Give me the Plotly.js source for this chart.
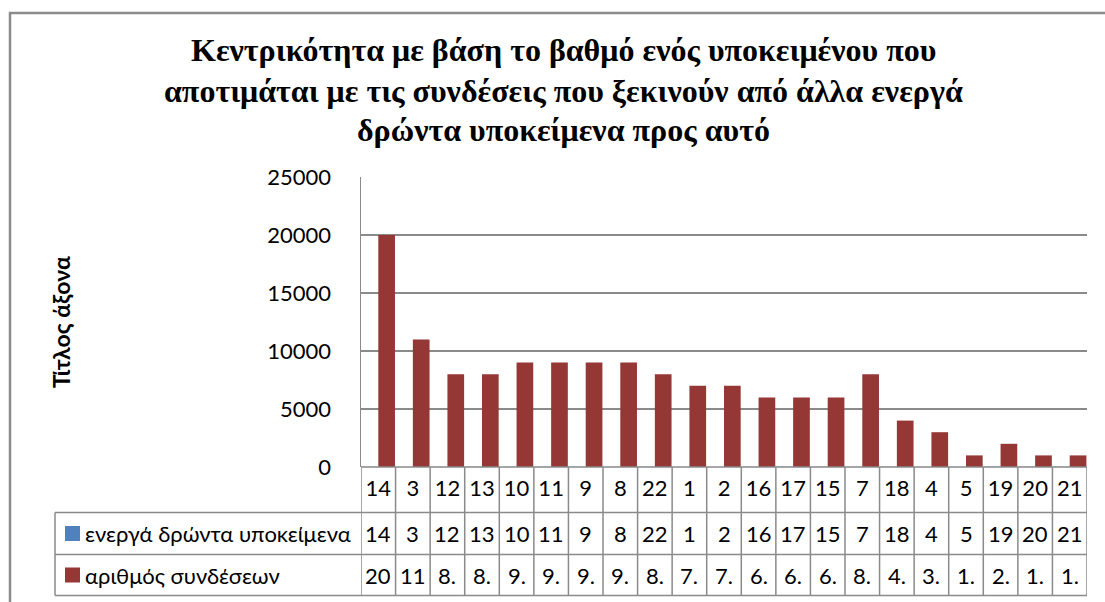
<!DOCTYPE html>
<html>
<head>
<meta charset="utf-8">
<script src="https://cdn.plot.ly/plotly-3.0.1.min.js"></script>
<style>html,body{margin:0;padding:0;background:#fff;}#chart{width:1105px;height:602px;}</style>
</head>
<body>
<div id="chart"></div>
<script>
// ---- data ----
const categories = ['14','3','12','13','10','11','9','8','22','1','2','16','17','15','7','18','4','5','19','20','21'];
const actors = [14,3,12,13,10,11,9,8,22,1,2,16,17,15,7,18,4,5,19,20,21];
const connections = [20000,11000,8000,8000,9000,9000,9000,9000,8000,7000,7000,6000,6000,6000,8000,4000,3000,1000,2000,1000,1000];
const seriesNames = ['ενεργά δρώντα υποκείμενα', 'αριθμός συνδέσεων'];
const seriesColors = ['#4F81BD', '#953735'];
const yTickValues = [0, 5000, 10000, 15000, 20000, 25000];
const yTickLabels = ['0', '5000', '10000', '15000', '20000', '25000'];
const titleLines = [
  'Κεντρικότητα με βάση το βαθμό ενός υποκειμένου που',
  'αποτιμάται με τις συνδέσεις που ξεκινούν από άλλα ενεργά',
  'δρώντα υποκείμενα προς αυτό'
];
const yTitle = 'Τίτλος άξονα';

// ---- helpers ----
const W = 1105, H = 602;
const px = x => x / W;
const py = y => 1 - y / H;
const idx = categories.map((c, i) => i);
// Excel-style truncated cell text (Greek thousands separator, narrow column)
const cellText = v => {
  const s = (v >= 1000) ? (Math.floor(v / 1000) + '.' + String(v % 1000).padStart(3, '0')) : String(v);
  return s.slice(0, 2);
};

const gridColor = '#8a8a8a';
const sansFont = 'Lato';
const serifFont = 'Liberation Serif';

// plot geometry (page px)
const plotL = 361, plotR = 1087, plotT = 177, plotB = 467;
const rowLines = [467, 512.5, 554.5, 595.5];
const legendL = 55;

const traces = [
  {type: 'bar', x: idx, y: actors, name: seriesNames[0], marker: {color: seriesColors[0]}, showlegend: false, hoverinfo: 'none'},
  {type: 'bar', x: idx, y: connections, name: seriesNames[1], marker: {color: seriesColors[1]}, showlegend: false, hoverinfo: 'none'}
];

const shapes = [];
// outer chart border
shapes.push({type: 'rect', xref: 'paper', yref: 'paper', x0: px(10), x1: px(1130), y0: py(13), y1: py(630),
  line: {color: '#8c8c8c', width: 2.5}, fillcolor: 'rgba(0,0,0,0)', layer: 'below'});
// vertical category lines through table
for (let i = 0; i <= categories.length; i++) {
  shapes.push({type: 'line', xref: 'x', yref: 'paper', x0: i - 0.5, x1: i - 0.5,
    y0: py(plotB), y1: py(rowLines[3]), line: {color: gridColor, width: 1.5}});
}
// horizontal lines
shapes.push({type: 'line', xref: 'paper', yref: 'paper', x0: px(plotL), x1: px(plotR), y0: py(rowLines[0]), y1: py(rowLines[0]), line: {color: gridColor, width: 1.5}});
for (let r = 1; r < rowLines.length; r++) {
  shapes.push({type: 'line', xref: 'paper', yref: 'paper', x0: px(legendL), x1: px(plotR), y0: py(rowLines[r]), y1: py(rowLines[r]), line: {color: gridColor, width: 1.5}});
}
// legend column left edge
shapes.push({type: 'line', xref: 'paper', yref: 'paper', x0: px(legendL), x1: px(legendL), y0: py(rowLines[1]), y1: py(rowLines[3]), line: {color: gridColor, width: 1.5}});
// legend keys
const rowCenters = [(rowLines[1] + rowLines[2]) / 2, (rowLines[2] + rowLines[3]) / 2];
seriesColors.forEach((c, k) => {
  shapes.push({type: 'rect', xref: 'paper', yref: 'paper', x0: px(65), x1: px(80), y0: py(rowCenters[k] - 7.5), y1: py(rowCenters[k] + 7.5),
    line: {width: 0}, fillcolor: c});
});

const annotations = [];
const titleY = [50, 91, 130];
titleLines.forEach((t, k) => {
  annotations.push({text: '<b>' + t + '</b>', xref: 'paper', yref: 'paper', x: px(563), y: py(titleY[k]), xanchor: 'center', yanchor: 'middle',
    showarrow: false, font: {family: serifFont, size: 32, color: '#000'}});
});
annotations.push({text: '<b>' + yTitle + '</b>', xref: 'paper', yref: 'paper', x: px(61), y: py(322), textangle: -90,
  xanchor: 'center', yanchor: 'middle', showarrow: false, font: {family: sansFont, size: 23, color: '#000'}});
seriesNames.forEach((n, k) => {
  annotations.push({text: n, xref: 'paper', yref: 'paper', x: px(83), y: py(rowCenters[k]), xanchor: 'left', yanchor: 'middle',
    showarrow: false, font: {family: sansFont, size: 22, color: '#000'}});
});
idx.forEach(i => {
  annotations.push({text: String(actors[i]), xref: 'x', yref: 'paper', x: i, y: py(rowCenters[0]), xanchor: 'center', yanchor: 'middle',
    showarrow: false, font: {family: sansFont, size: 22, color: '#000'}});
  annotations.push({text: cellText(connections[i]), xref: 'x', yref: 'paper', x: i, y: py(rowCenters[1]), xanchor: 'center', yanchor: 'middle',
    showarrow: false, font: {family: sansFont, size: 22, color: '#000'}});
});

const layout = {
  width: W, height: H,
  margin: {l: 0, r: 0, t: 0, b: 0},
  paper_bgcolor: '#fff', plot_bgcolor: '#fff',
  barmode: 'group', bargap: 0.035, bargroupgap: 0,
  showlegend: false,
  xaxis: {domain: [px(plotL), px(plotR)], range: [-0.5, categories.length - 0.5], tickmode: 'array', tickvals: idx, ticktext: categories,
    showgrid: false, zeroline: false, showline: false, ticks: '', tickfont: {family: sansFont, size: 22, color: '#000'}, ticklabelstandoff: 6, fixedrange: true},
  yaxis: {domain: [py(plotB), py(plotT)], range: [0, 25000], tickmode: 'array', tickvals: yTickValues, ticktext: yTickLabels,
    showgrid: true, gridcolor: gridColor, gridwidth: 1.5, zeroline: false, showline: true, linecolor: gridColor, linewidth: 1.5,
    ticks: '', ticklabelstandoff: 24, tickfont: {family: sansFont, size: 22, color: '#000'}, fixedrange: true},
  shapes: shapes,
  annotations: annotations
};

Plotly.newPlot('chart', traces, layout, {staticPlot: true, displayModeBar: false});
</script>
</body>
</html>
